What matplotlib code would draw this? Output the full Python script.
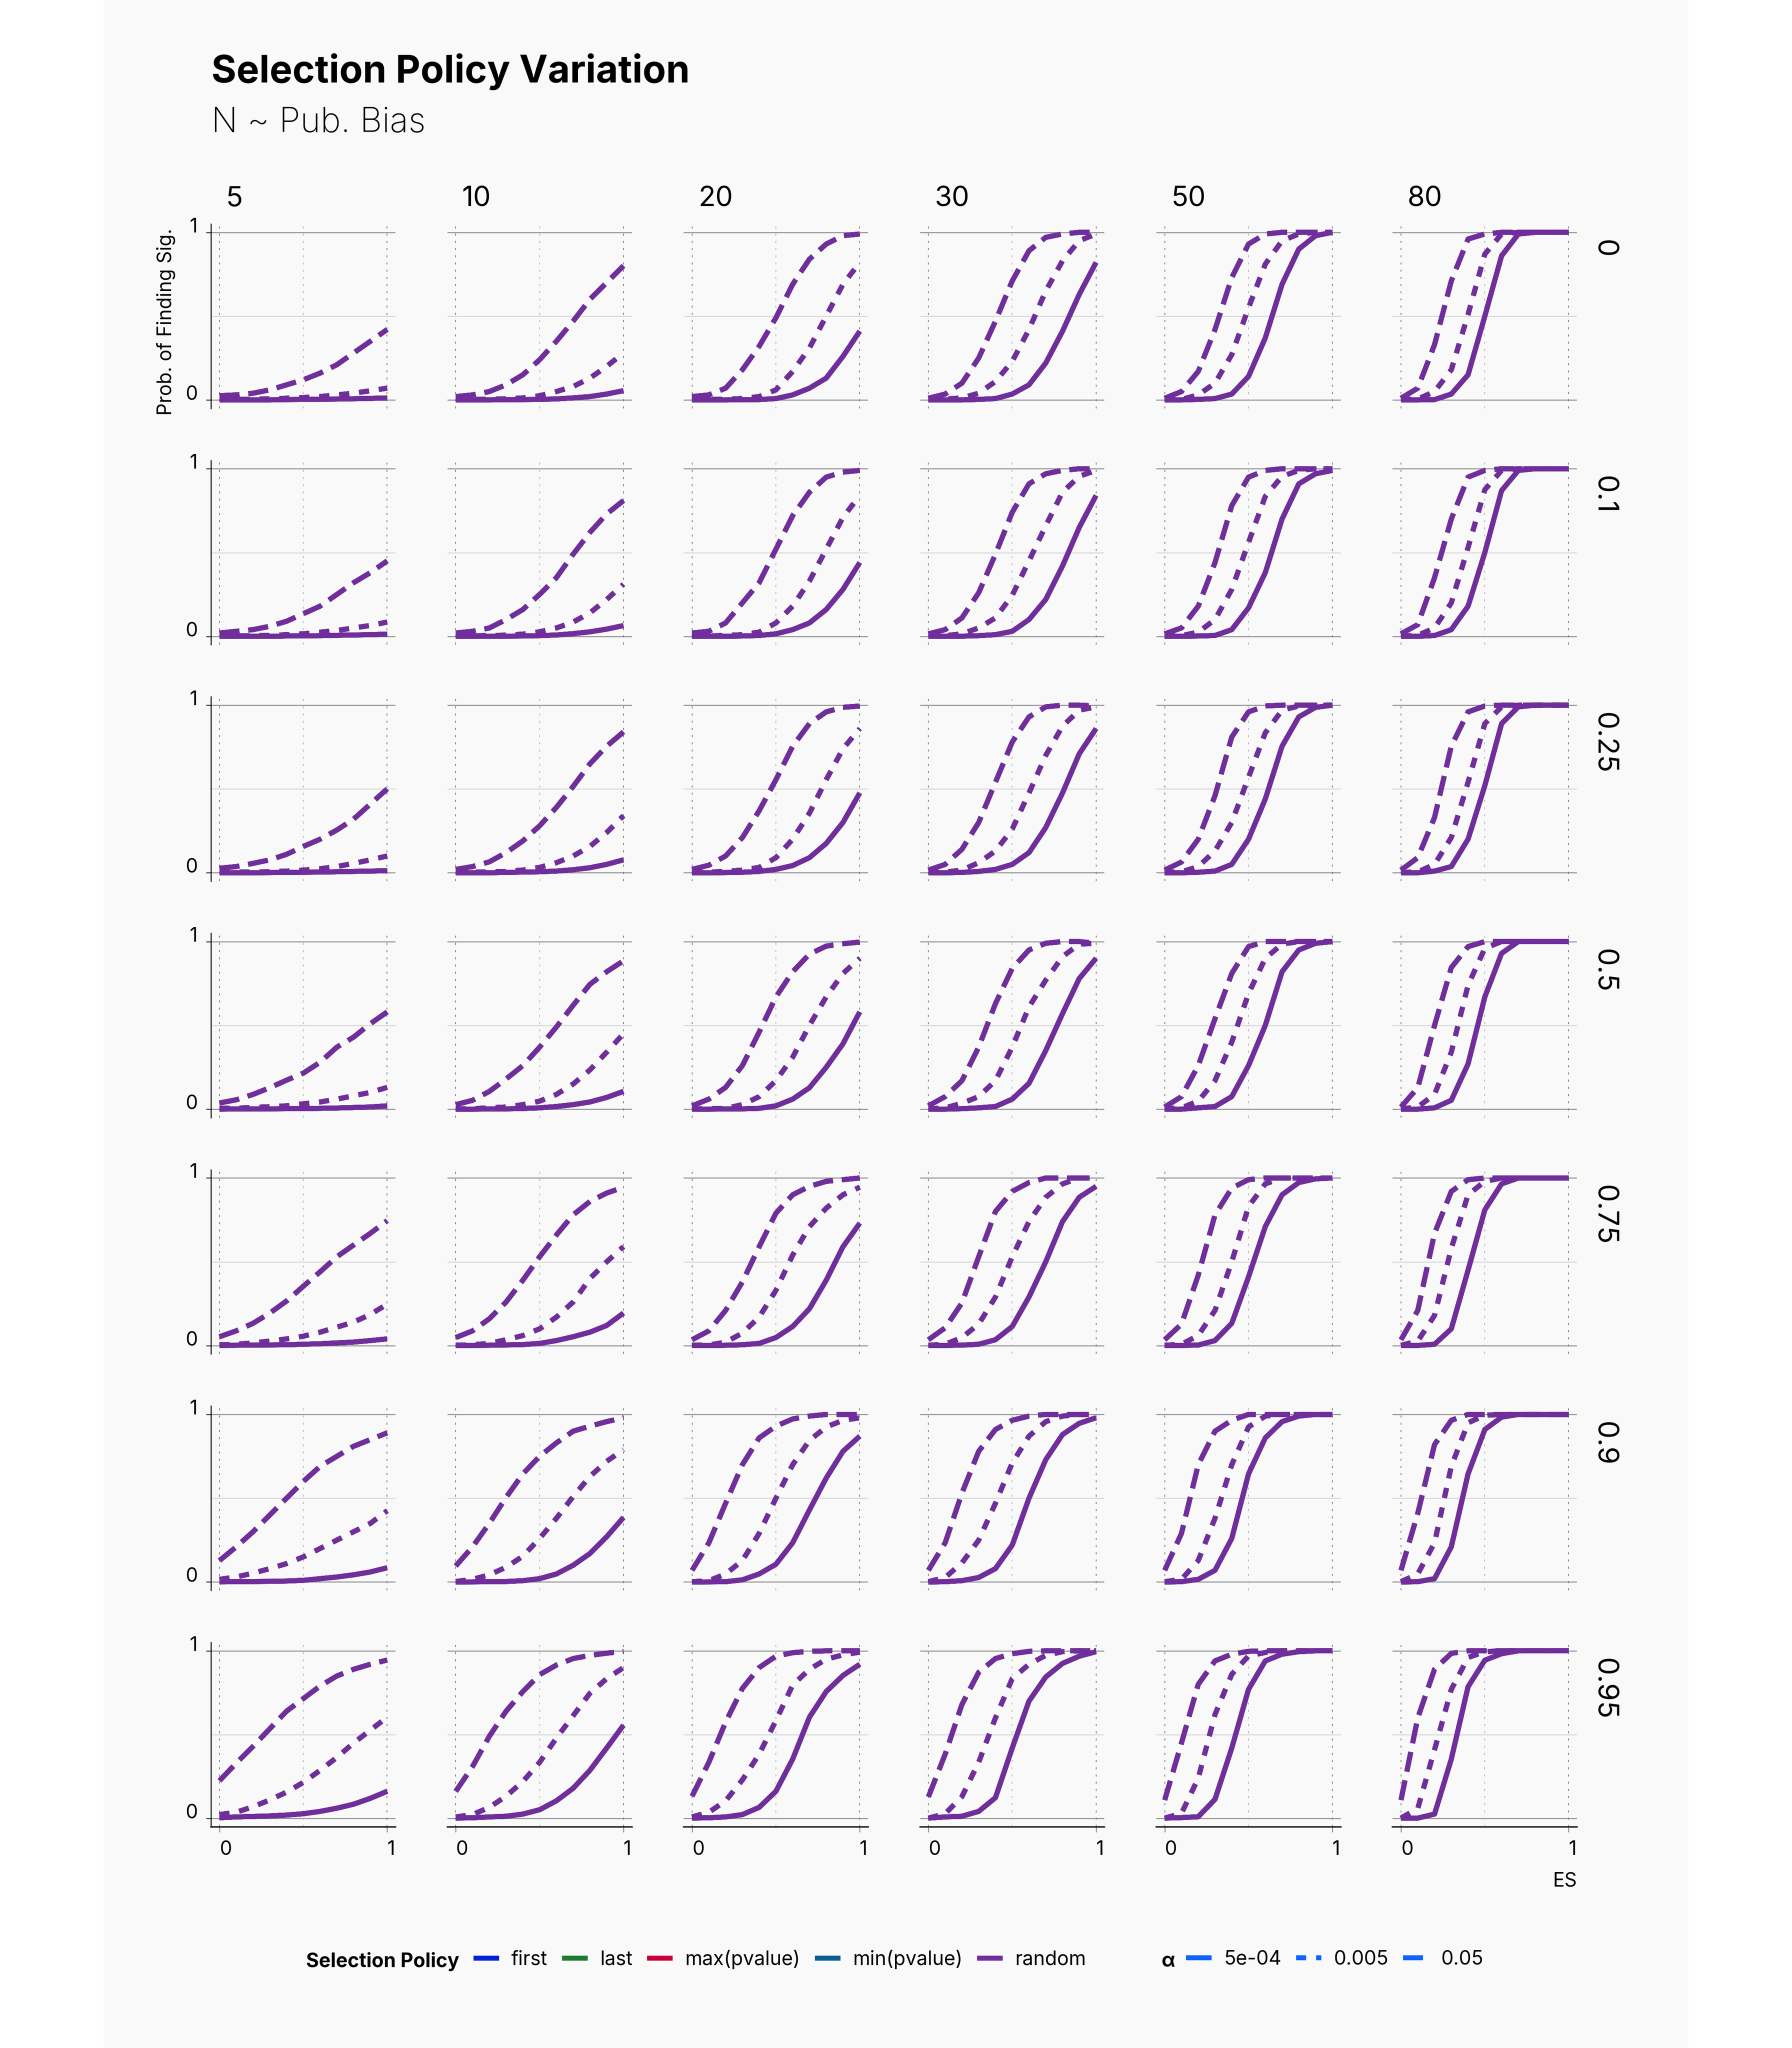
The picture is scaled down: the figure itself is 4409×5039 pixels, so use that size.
import matplotlib
matplotlib.use('Agg')
import matplotlib.pyplot as plt
from matplotlib.lines import Line2D
from matplotlib.patches import Rectangle

plt.rcParams['font.family'] = ['Inter', 'DejaVu Sans']

# ---- data ----
es = [0.0, 0.1, 0.2, 0.3, 0.4, 0.5, 0.6, 0.7, 0.8, 0.9, 1.0]
pub_bias = ['0', '0.1', '0.25', '0.5', '0.75', '0.9', '0.95']
n_sizes = ['5', '10', '20', '30', '50', '80']
policies = ['first', 'last', 'max(pvalue)', 'min(pvalue)', 'random']
alphas = ['5e-04', '0.005', '0.05']

# probability of finding sig., [pub bias][N][ES]
power_5e04 = [
    [[0, 0, 0, 0, 0.002, 0.003, 0.004, 0.005, 0.007, 0.009, 0.012],
     [0, 0, 0, 0.001, 0.002, 0.003, 0.006, 0.012, 0.02, 0.035, 0.055],
     [0, 0, 0, 0.001, 0.002, 0.008, 0.03, 0.07, 0.13, 0.26, 0.41],
     [0, 0, 0, 0.003, 0.008, 0.035, 0.09, 0.22, 0.41, 0.63, 0.82],
     [0, 0, 0.003, 0.008, 0.035, 0.14, 0.37, 0.69, 0.9, 0.98, 1.0],
     [0, 0, 0.002, 0.035, 0.15, 0.5, 0.86, 0.99, 1.0, 1.0, 1.0]],
    [[0, 0, 0, 0, 0.002, 0.003, 0.004, 0.006, 0.008, 0.01, 0.013],
     [0, 0, 0, 0.001, 0.002, 0.004, 0.008, 0.016, 0.027, 0.043, 0.064],
     [0, 0, 0, 0.002, 0.005, 0.015, 0.04, 0.08, 0.16, 0.28, 0.44],
     [0, 0, 0.001, 0.004, 0.01, 0.03, 0.1, 0.22, 0.42, 0.65, 0.84],
     [0, 0, 0.002, 0.005, 0.04, 0.17, 0.38, 0.7, 0.91, 0.97, 0.99],
     [0, 0, 0.005, 0.04, 0.18, 0.5, 0.87, 0.99, 1.0, 1.0, 1.0]],
    [[0, 0, 0, 0.001, 0.002, 0.003, 0.004, 0.006, 0.008, 0.01, 0.012],
     [0, 0, 0, 0.002, 0.004, 0.006, 0.01, 0.018, 0.03, 0.05, 0.077],
     [0, 0, 0.001, 0.003, 0.008, 0.02, 0.043, 0.09, 0.175, 0.3, 0.476],
     [0, 0, 0.002, 0.008, 0.02, 0.05, 0.12, 0.27, 0.476, 0.71, 0.86],
     [0, 0, 0.003, 0.01, 0.05, 0.2, 0.44, 0.755, 0.93, 0.987, 1.0],
     [0, 0, 0.01, 0.037, 0.2, 0.52, 0.89, 0.99, 1.0, 1.0, 1.0]],
    [[0, 0.001, 0.002, 0.002, 0.003, 0.003, 0.005, 0.007, 0.01, 0.013, 0.02],
     [0, 0, 0.001, 0.002, 0.004, 0.008, 0.016, 0.027, 0.043, 0.07, 0.106],
     [0, 0, 0.001, 0.002, 0.005, 0.02, 0.06, 0.128, 0.25, 0.39, 0.58],
     [0, 0, 0.003, 0.008, 0.016, 0.06, 0.154, 0.35, 0.57, 0.78, 0.9],
     [0, 0, 0.008, 0.016, 0.075, 0.26, 0.5, 0.82, 0.95, 0.99, 1.0],
     [0, 0, 0.008, 0.053, 0.27, 0.67, 0.93, 1.0, 1.0, 1.0, 1.0]],
    [[0.001, 0.002, 0.003, 0.004, 0.005, 0.008, 0.011, 0.016, 0.021, 0.03, 0.04],
     [0, 0.001, 0.002, 0.004, 0.006, 0.013, 0.03, 0.053, 0.08, 0.12, 0.194],
     [0, 0, 0.002, 0.005, 0.013, 0.048, 0.114, 0.22, 0.39, 0.59, 0.73],
     [0, 0.001, 0.003, 0.008, 0.035, 0.114, 0.29, 0.5, 0.74, 0.885, 0.95],
     [0, 0.001, 0.003, 0.03, 0.133, 0.41, 0.71, 0.9, 0.973, 0.995, 1.0],
     [0, 0.001, 0.008, 0.1, 0.45, 0.81, 0.965, 1.0, 1.0, 1.0, 1.0]],
    [[0.001, 0.002, 0.003, 0.004, 0.006, 0.01, 0.02, 0.03, 0.043, 0.06, 0.085],
     [0, 0.001, 0.002, 0.003, 0.008, 0.02, 0.048, 0.1, 0.17, 0.27, 0.385],
     [0, 0.001, 0.002, 0.013, 0.048, 0.106, 0.234, 0.43, 0.62, 0.78, 0.87],
     [0, 0.002, 0.008, 0.027, 0.08, 0.22, 0.5, 0.73, 0.88, 0.947, 0.98],
     [0, 0.002, 0.016, 0.07, 0.26, 0.645, 0.86, 0.957, 0.99, 1.0, 1.0],
     [0, 0.002, 0.02, 0.21, 0.645, 0.91, 0.984, 1.0, 1.0, 1.0, 1.0]],
    [[0.004, 0.009, 0.012, 0.015, 0.02, 0.028, 0.042, 0.061, 0.085, 0.12, 0.162],
     [0.002, 0.004, 0.009, 0.013, 0.026, 0.052, 0.105, 0.18, 0.287, 0.42, 0.556],
     [0.002, 0.004, 0.009, 0.023, 0.066, 0.162, 0.354, 0.604, 0.757, 0.853, 0.92],
     [0.002, 0.009, 0.013, 0.042, 0.124, 0.42, 0.7, 0.844, 0.925, 0.968, 0.995],
     [0.002, 0.005, 0.01, 0.114, 0.42, 0.77, 0.94, 0.98, 0.995, 1.0, 1.0],
     [0.002, 0.002, 0.026, 0.354, 0.786, 0.944, 0.983, 1.0, 1.0, 1.0, 1.0]],
]

power_0005 = [
    [[0.002, 0.003, 0.004, 0.006, 0.01, 0.014, 0.02, 0.03, 0.04, 0.055, 0.07],
     [0.002, 0.003, 0.004, 0.006, 0.012, 0.025, 0.05, 0.08, 0.13, 0.2, 0.28],
     [0.002, 0.003, 0.004, 0.008, 0.02, 0.06, 0.17, 0.31, 0.5, 0.69, 0.82],
     [0.002, 0.005, 0.012, 0.04, 0.11, 0.23, 0.42, 0.65, 0.83, 0.95, 0.99],
     [0.002, 0.003, 0.03, 0.1, 0.27, 0.55, 0.81, 0.95, 0.99, 1.0, 1.0],
     [0.002, 0.005, 0.05, 0.18, 0.51, 0.87, 0.99, 1.0, 1.0, 1.0, 1.0]],
    [[0.002, 0.003, 0.004, 0.005, 0.01, 0.015, 0.025, 0.035, 0.05, 0.065, 0.085],
     [0.002, 0.003, 0.005, 0.007, 0.013, 0.027, 0.05, 0.085, 0.14, 0.22, 0.31],
     [0.002, 0.003, 0.005, 0.01, 0.025, 0.08, 0.18, 0.33, 0.52, 0.71, 0.84],
     [0.002, 0.004, 0.015, 0.05, 0.11, 0.245, 0.45, 0.66, 0.86, 0.955, 0.99],
     [0.002, 0.004, 0.025, 0.1, 0.28, 0.56, 0.835, 0.955, 0.99, 1.0, 1.0],
     [0.002, 0.006, 0.05, 0.2, 0.53, 0.875, 0.99, 1.0, 1.0, 1.0, 1.0]],
    [[0.003, 0.004, 0.005, 0.006, 0.01, 0.016, 0.024, 0.037, 0.056, 0.077, 0.1],
     [0.002, 0.003, 0.005, 0.008, 0.016, 0.032, 0.06, 0.1, 0.157, 0.24, 0.34],
     [0.002, 0.004, 0.008, 0.016, 0.032, 0.09, 0.2, 0.356, 0.555, 0.74, 0.86],
     [0.002, 0.004, 0.016, 0.06, 0.13, 0.26, 0.476, 0.7, 0.875, 0.97, 0.99],
     [0.002, 0.005, 0.037, 0.13, 0.3, 0.57, 0.835, 0.97, 0.995, 1.0, 1.0],
     [0.002, 0.005, 0.05, 0.21, 0.54, 0.89, 0.99, 1.0, 1.0, 1.0, 1.0]],
    [[0.005, 0.006, 0.01, 0.015, 0.02, 0.032, 0.043, 0.06, 0.08, 0.1, 0.13],
     [0.002, 0.003, 0.008, 0.013, 0.027, 0.048, 0.088, 0.15, 0.234, 0.34, 0.45],
     [0.002, 0.003, 0.005, 0.027, 0.075, 0.17, 0.31, 0.5, 0.67, 0.81, 0.9],
     [0.002, 0.008, 0.035, 0.075, 0.17, 0.37, 0.61, 0.77, 0.91, 0.985, 0.99],
     [0.002, 0.008, 0.048, 0.17, 0.4, 0.69, 0.9, 0.985, 1.0, 1.0, 1.0],
     [0.002, 0.013, 0.088, 0.34, 0.74, 0.96, 1.0, 1.0, 1.0, 1.0, 1.0]],
    [[0.005, 0.008, 0.016, 0.027, 0.04, 0.056, 0.08, 0.11, 0.14, 0.186, 0.247],
     [0.003, 0.005, 0.013, 0.035, 0.06, 0.1, 0.17, 0.26, 0.4, 0.5, 0.59],
     [0.002, 0.004, 0.02, 0.075, 0.17, 0.33, 0.54, 0.71, 0.82, 0.9, 0.945],
     [0.002, 0.008, 0.048, 0.128, 0.29, 0.53, 0.74, 0.885, 0.965, 1.0, 1.0],
     [0.002, 0.008, 0.06, 0.21, 0.5, 0.83, 0.965, 1.0, 1.0, 1.0, 1.0],
     [0.002, 0.027, 0.18, 0.58, 0.9, 0.98, 1.0, 1.0, 1.0, 1.0, 1.0]],
    [[0.016, 0.03, 0.053, 0.08, 0.11, 0.15, 0.2, 0.25, 0.3, 0.35, 0.425],
     [0.003, 0.016, 0.043, 0.088, 0.154, 0.26, 0.38, 0.51, 0.63, 0.72, 0.79],
     [0.002, 0.008, 0.048, 0.128, 0.29, 0.5, 0.7, 0.845, 0.925, 0.965, 0.98],
     [0.002, 0.027, 0.114, 0.25, 0.47, 0.71, 0.87, 0.957, 0.99, 1.0, 1.0],
     [0.002, 0.016, 0.128, 0.38, 0.7, 0.925, 0.99, 1.0, 1.0, 1.0, 1.0],
     [0.002, 0.048, 0.234, 0.69, 0.95, 0.995, 1.0, 1.0, 1.0, 1.0, 1.0]],
    [[0.023, 0.037, 0.07, 0.11, 0.157, 0.215, 0.287, 0.364, 0.45, 0.527, 0.604],
     [0.009, 0.023, 0.066, 0.133, 0.22, 0.335, 0.479, 0.613, 0.747, 0.834, 0.9],
     [0.009, 0.037, 0.105, 0.23, 0.383, 0.584, 0.796, 0.89, 0.95, 0.976, 0.992],
     [0.002, 0.028, 0.13, 0.335, 0.6, 0.834, 0.92, 0.973, 0.995, 1.0, 1.0],
     [0.002, 0.03, 0.24, 0.62, 0.86, 0.97, 0.99, 1.0, 1.0, 1.0, 1.0],
     [0.002, 0.06, 0.41, 0.77, 0.96, 0.995, 1.0, 1.0, 1.0, 1.0, 1.0]],
]

power_005 = [
    [[0.025, 0.03, 0.04, 0.06, 0.09, 0.12, 0.16, 0.21, 0.28, 0.35, 0.42],
     [0.02, 0.03, 0.05, 0.09, 0.15, 0.24, 0.35, 0.47, 0.6, 0.7, 0.8],
     [0.02, 0.03, 0.07, 0.18, 0.32, 0.49, 0.69, 0.84, 0.93, 0.98, 0.99],
     [0.01, 0.035, 0.1, 0.25, 0.47, 0.71, 0.89, 0.97, 0.99, 1.0, 1.0],
     [0.01, 0.05, 0.17, 0.42, 0.73, 0.93, 0.99, 1.0, 1.0, 1.0, 1.0],
     [0.01, 0.07, 0.33, 0.71, 0.96, 0.99, 1.0, 1.0, 1.0, 1.0, 1.0]],
    [[0.02, 0.03, 0.04, 0.06, 0.09, 0.135, 0.18, 0.25, 0.32, 0.38, 0.45],
     [0.02, 0.03, 0.05, 0.1, 0.16, 0.25, 0.35, 0.49, 0.62, 0.73, 0.81],
     [0.02, 0.03, 0.08, 0.2, 0.32, 0.52, 0.72, 0.86, 0.95, 0.98, 0.99],
     [0.015, 0.04, 0.11, 0.26, 0.49, 0.74, 0.91, 0.97, 0.99, 1.0, 1.0],
     [0.015, 0.05, 0.18, 0.44, 0.78, 0.95, 0.99, 1.0, 1.0, 1.0, 1.0],
     [0.015, 0.07, 0.35, 0.7, 0.95, 0.99, 1.0, 1.0, 1.0, 1.0, 1.0]],
    [[0.027, 0.037, 0.056, 0.077, 0.11, 0.157, 0.2, 0.255, 0.32, 0.41, 0.5],
     [0.02, 0.037, 0.065, 0.12, 0.19, 0.28, 0.39, 0.515, 0.65, 0.755, 0.84],
     [0.02, 0.045, 0.1, 0.21, 0.37, 0.555, 0.755, 0.89, 0.96, 0.987, 0.995],
     [0.016, 0.05, 0.14, 0.3, 0.54, 0.78, 0.93, 0.99, 1.0, 1.0, 0.995],
     [0.016, 0.064, 0.2, 0.46, 0.81, 0.96, 0.995, 1.0, 1.0, 1.0, 1.0],
     [0.016, 0.09, 0.33, 0.755, 0.96, 0.995, 1.0, 1.0, 1.0, 1.0, 1.0]],
    [[0.037, 0.056, 0.088, 0.128, 0.173, 0.215, 0.28, 0.37, 0.43, 0.51, 0.58],
     [0.027, 0.053, 0.106, 0.18, 0.26, 0.37, 0.49, 0.62, 0.745, 0.82, 0.885],
     [0.02, 0.06, 0.13, 0.26, 0.46, 0.67, 0.82, 0.925, 0.973, 0.987, 0.997],
     [0.02, 0.075, 0.17, 0.37, 0.63, 0.84, 0.95, 0.99, 1.0, 1.0, 0.99],
     [0.013, 0.075, 0.26, 0.54, 0.81, 0.97, 1.0, 1.0, 1.0, 1.0, 1.0],
     [0.013, 0.128, 0.5, 0.845, 0.97, 1.0, 1.0, 1.0, 1.0, 1.0, 1.0]],
    [[0.053, 0.088, 0.133, 0.194, 0.266, 0.354, 0.44, 0.53, 0.6, 0.67, 0.745],
     [0.048, 0.088, 0.16, 0.26, 0.39, 0.53, 0.66, 0.78, 0.86, 0.91, 0.945],
     [0.035, 0.088, 0.21, 0.38, 0.59, 0.79, 0.9, 0.95, 0.98, 0.99, 1.0],
     [0.035, 0.106, 0.255, 0.53, 0.8, 0.92, 0.973, 1.0, 1.0, 1.0, 1.0],
     [0.035, 0.128, 0.42, 0.78, 0.94, 0.99, 1.0, 1.0, 1.0, 1.0, 1.0],
     [0.035, 0.21, 0.67, 0.92, 0.99, 1.0, 1.0, 1.0, 1.0, 1.0, 1.0]],
    [[0.128, 0.21, 0.3, 0.4, 0.5, 0.6, 0.69, 0.75, 0.81, 0.85, 0.89],
     [0.096, 0.21, 0.35, 0.505, 0.645, 0.75, 0.83, 0.9, 0.93, 0.957, 0.98],
     [0.07, 0.234, 0.47, 0.7, 0.86, 0.93, 0.973, 0.99, 1.0, 1.0, 1.0],
     [0.07, 0.234, 0.53, 0.78, 0.91, 0.965, 0.99, 1.0, 1.0, 1.0, 1.0],
     [0.07, 0.29, 0.7, 0.9, 0.965, 1.0, 1.0, 1.0, 1.0, 1.0, 1.0],
     [0.07, 0.41, 0.82, 0.965, 1.0, 1.0, 1.0, 1.0, 1.0, 1.0, 1.0]],
    [[0.225, 0.33, 0.43, 0.535, 0.64, 0.715, 0.79, 0.85, 0.89, 0.92, 0.945],
     [0.162, 0.31, 0.49, 0.64, 0.757, 0.858, 0.915, 0.954, 0.973, 0.986, 0.997],
     [0.133, 0.335, 0.575, 0.776, 0.9, 0.968, 0.989, 0.997, 1.0, 1.0, 1.0],
     [0.129, 0.383, 0.68, 0.872, 0.954, 0.983, 0.997, 1.0, 1.0, 1.0, 1.0],
     [0.11, 0.45, 0.8, 0.94, 0.98, 0.997, 1.0, 1.0, 1.0, 1.0, 1.0],
     [0.11, 0.6, 0.89, 0.985, 1.0, 1.0, 1.0, 1.0, 1.0, 1.0, 1.0]],
]

# ---- styling ----
policy_colors = ['#0022d4', '#1f7a30', '#c8003a', '#0b5e96', '#722d9c']
alpha_color = '#0f62fe'
alpha_styles = ['-', (0, (2.0, 2.0)), (0, (4.0, 1.8))]
power_by_alpha = [power_5e04, power_0005, power_005]
bg = '#f9f9f9'
lw = 2.95

W, H = 4409, 5039
fig = plt.figure(figsize=(W / 300, H / 300), dpi=300)
fig.patch.set_facecolor('white')
fig.patches.append(Rectangle((255 / W, 0), (4154 - 255) / W, 1, transform=fig.transFigure,
                             facecolor=bg, edgecolor='none', zorder=-10))

ax_w, ax_h = 453.7, 453.6
for r, pb in enumerate(pub_bias):
    for c, n in enumerate(n_sizes):
        left = 519.4 + 581.4 * c
        top = 551 + 581.7 * r
        ax = fig.add_axes([left / W, 1 - (top + ax_h) / H, ax_w / W, ax_h / H])
        ax.set_facecolor(bg)
        ax.set_xlim(-0.05, 1.05)
        ax.set_ylim(-0.05, 1.05)

        # grid
        ax.axhline(0.5, color='#d6d6d6', lw=0.6, zorder=0)
        for yy in (0, 1):
            ax.axhline(yy, color='#8c8c8c', lw=0.6, zorder=0)
        ax.axvline(0.5, color='#b4b4b4', lw=0.5, ls=(0, (2.5, 6)), zorder=0)
        for xx in (0, 1):
            ax.axvline(xx, color='#7a7a7a', lw=0.5, ls=(0, (2.5, 6)), zorder=0)

        for a, style in enumerate(alpha_styles):
            vals = power_by_alpha[a][r][c]
            for p, col in enumerate(policy_colors):
                ax.plot(es, vals, color=col, lw=lw, linestyle=style,
                        solid_capstyle='butt', dash_capstyle='butt', zorder=2 + p)

        for s in ax.spines.values():
            s.set_visible(False)
        ax.set_xticks([0, 1])
        ax.set_yticks([0, 1])
        ax.set_xticklabels(['0', '1'])
        ax.set_yticklabels(['0', '1'])
        ax.tick_params(axis='y', left=(c == 0), labelleft=(c == 0), length=3, width=0.6,
                       pad=5, labelsize=11.5, color='#333333')
        ax.tick_params(axis='x', bottom=(r == len(pub_bias) - 1), labelbottom=(r == len(pub_bias) - 1),
                       length=3, width=0.6, pad=5, labelsize=11.5, color='#8c8c8c')
        if c == 0:
            ax.spines['left'].set_visible(True)
            ax.spines['left'].set_color('black')
            ax.spines['left'].set_linewidth(0.6)
            for lab in ax.get_yticklabels():
                lab.set_verticalalignment('baseline')
        if r == len(pub_bias) - 1:
            ax.spines['bottom'].set_visible(True)
            ax.spines['bottom'].set_color('#222222')
            ax.spines['bottom'].set_linewidth(0.9)
            for lab in ax.get_xticklabels():
                lab.set_horizontalalignment('left')

        if r == 0:
            ax.text(0.08, 1.095, n, transform=ax.transAxes, fontsize=16.5,
                    ha='left', va='baseline')
        if c == len(n_sizes) - 1:
            ax.text(1.145, 0.915, pb, transform=ax.transAxes, fontsize=17,
                    rotation=270, ha='center', va='top')
        if r == len(pub_bias) - 1 and c == len(n_sizes) - 1:
            ax.text(1.0, -0.245, 'ES', transform=ax.transAxes, fontsize=11.5,
                    ha='right', va='top')

fig.text(408 / W, 1 - 792 / H, 'Prob. of Finding Sig.', rotation=90, fontsize=11.5,
         ha='center', va='center')

fig.text(520 / W, 1 - 203 / H, 'Selection Policy Variation', fontsize=22.6,
         fontweight='bold', ha='left', va='baseline')
fig.text(520 / W, 1 - 325 / H, 'N ~ Pub. Bias', fontsize=20.3, fontweight='light',
         ha='left', va='baseline')

# legends
ly = 1 - 4821 / H
fig.text(753 / W, ly, 'Selection Policy', fontsize=11.6, fontweight='bold',
         ha='left', va='center_baseline')
pol_handles = [Line2D([], [], color=col, lw=lw, solid_capstyle='butt') for col in policy_colors]
leg1 = fig.legend(pol_handles, policies, loc='center left', bbox_to_anchor=(1165 / W, ly),
                  ncol=5, frameon=False, fontsize=11.6, handlelength=1.3, handletextpad=0.62,
                  columnspacing=0.75, borderpad=0, borderaxespad=0)
fig.text(2857 / W, ly, 'α', fontsize=11.6, fontweight='bold', ha='left', va='center_baseline')
alpha_handles = [Line2D([], [], color=alpha_color, lw=lw, linestyle=st,
                        solid_capstyle='butt', dash_capstyle='butt') for st in alpha_styles]
leg2 = fig.legend(alpha_handles, alphas, loc='center left', bbox_to_anchor=(2918 / W, ly),
                  ncol=3, frameon=False, fontsize=11.6, handlelength=1.3, handletextpad=0.62,
                  columnspacing=0.75, borderpad=0, borderaxespad=0)

fig.savefig('out.png', dpi=300, facecolor='white')
